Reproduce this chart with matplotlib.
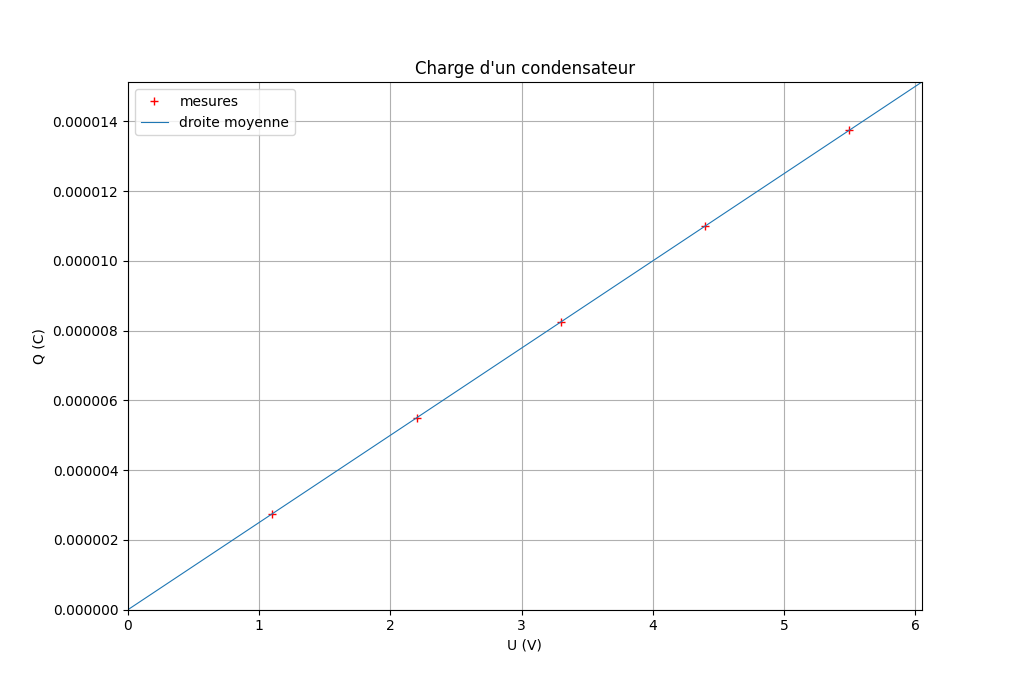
import numpy as np
import matplotlib
matplotlib.use("Agg")
import matplotlib.pyplot as plt
from matplotlib.ticker import FormatStrFormatter

# mesures
U = [1.1, 2.2, 3.3, 4.4, 5.5]
Q = [2.75e-6, 5.5e-6, 8.25e-6, 11.0e-6, 13.75e-6]

# droite moyenne
pente = 2.5e-6
U_droite = [0.0, 6.05]
Q_droite = [pente * u for u in U_droite]

fig = plt.figure(figsize=(10.24, 6.85), dpi=100)
ax = fig.add_subplot(111)
ax.plot(U, Q, "r+", label="mesures")
ax.plot(U_droite, Q_droite, linewidth=0.8, label="droite moyenne")
ax.set_xlim(U_droite[0], U_droite[1])
ax.set_ylim(Q_droite[0], Q_droite[1])
ax.yaxis.set_major_formatter(FormatStrFormatter("%.6f"))
ax.grid(True)
ax.set_title("Charge d'un condensateur")
ax.set_xlabel("U (V)")
ax.set_ylabel("Q (C)")
ax.legend(loc="upper left")
fig.savefig("out.png", dpi=100)
